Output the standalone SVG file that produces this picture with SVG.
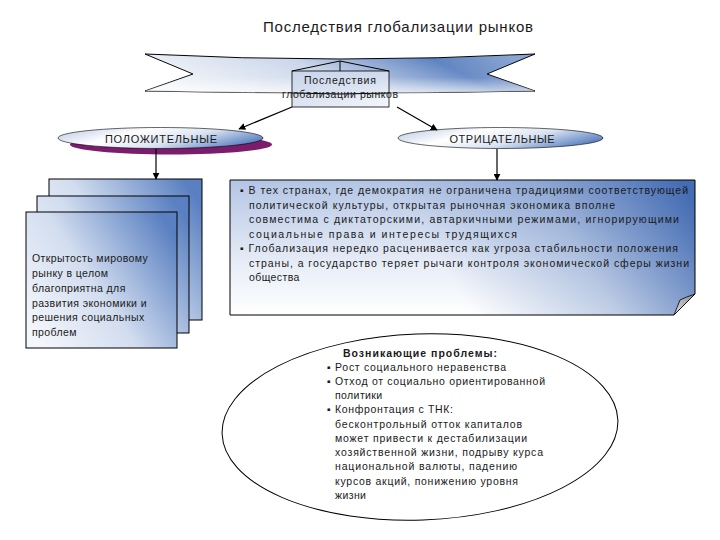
<svg xmlns="http://www.w3.org/2000/svg" width="720" height="540" viewBox="0 0 720 540">
<defs>
<linearGradient id="gRibbon" x1="0" y1="0.6" x2="1" y2="0.4">
<stop offset="0" stop-color="#f4f6fa"/>
<stop offset="0.45" stop-color="#cad6ea"/>
<stop offset="0.8" stop-color="#5a80c0"/>
<stop offset="1" stop-color="#88a3d1"/>
</linearGradient>
<linearGradient id="gRibbonV" x1="0" y1="0" x2="0" y2="1">
<stop offset="0" stop-color="#ffffff" stop-opacity="0"/>
<stop offset="0.6" stop-color="#ffffff" stop-opacity="0.1"/>
<stop offset="1" stop-color="#ffffff" stop-opacity="0.7"/>
</linearGradient>
<linearGradient id="gBox" x1="0" y1="0" x2="1" y2="1">
<stop offset="0" stop-color="#c6d3ea"/>
<stop offset="0.55" stop-color="#d9e2f1"/>
<stop offset="1" stop-color="#f2f5fa"/>
</linearGradient>
<linearGradient id="gEll" x1="0" y1="0.3" x2="1" y2="0.7">
<stop offset="0" stop-color="#c9d5ea"/>
<stop offset="0.3" stop-color="#ffffff"/>
<stop offset="0.6" stop-color="#dbe4f2"/>
<stop offset="1" stop-color="#4d76bb"/>
</linearGradient>
<linearGradient id="gPage" x1="0" y1="0.8" x2="1" y2="0.2">
<stop offset="0" stop-color="#f3f6fb"/>
<stop offset="0.45" stop-color="#d2ddef"/>
<stop offset="1" stop-color="#5a80c1"/>
</linearGradient>
<linearGradient id="gNoteV" gradientUnits="userSpaceOnUse" x1="0" y1="180" x2="0" y2="315">
<stop offset="0" stop-color="#b3c5e5"/>
<stop offset="0.6" stop-color="#e6ecf6"/>
<stop offset="1" stop-color="#ffffff"/>
</linearGradient>
<linearGradient id="gNoteH" gradientUnits="userSpaceOnUse" x1="470" y1="310" x2="680" y2="180">
<stop offset="0" stop-color="#4a72b6" stop-opacity="0"/>
<stop offset="0.5" stop-color="#4a72b6" stop-opacity="0.35"/>
<stop offset="1" stop-color="#3f68b0" stop-opacity="0.95"/>
</linearGradient>
<linearGradient id="gCurl" x1="0" y1="1" x2="1" y2="0">
<stop offset="0" stop-color="#e0e0e0"/>
<stop offset="1" stop-color="#8c8c8c"/>
</linearGradient>
<marker id="arr" viewBox="0 0 10 10" refX="9" refY="5" markerWidth="7" markerHeight="7" markerUnits="userSpaceOnUse" orient="auto">
<path d="M0,0 L10,5 L0,10 Z" fill="#000"/>
</marker>
<style>
.t{font-family:"Liberation Sans",Arial,sans-serif;fill:#1a1a1a;}
.s{font-size:10.5px;}
.ls{letter-spacing:0.4px;}
.b{font-weight:bold;}
.ln{stroke:#000;stroke-width:1;fill:none;}
.c{stroke:#000;stroke-width:1.2;fill:none;marker-end:url(#arr);}
</style>
</defs>
<rect width="720" height="540" fill="#ffffff"/>

<text class="t" x="398" y="32" font-size="15" text-anchor="middle" textLength="270" lengthAdjust="spacing">Последствия глобализации рынков</text>

<g id="banner">
<path d="M145,54 Q340,64 535,54 L487,74 L535,91 Q340,95 145,91 L193,74 Z" fill="url(#gRibbon)" stroke="#000" stroke-width="1"/>
<path d="M145,54 Q340,64 535,54 L487,74 L535,91 Q340,95 145,91 L193,74 Z" fill="url(#gRibbonV)"/>
</g>

<g id="root">
<rect x="292" y="71" width="97" height="36" fill="url(#gBox)" fill-opacity="0.85" stroke="#000" stroke-width="0.8"/>
<path d="M292,71 L340,61 L389,71 M340,61 L340,71" class="ln" stroke-width="0.8"/>
<path d="M292,93 Q340,95 389,93" class="ln" stroke-width="0.8"/>
<text class="t" x="340" y="84" font-size="10.5" text-anchor="middle" textLength="72" lengthAdjust="spacing">Последствия</text>
<text class="t" x="340" y="98" font-size="10.5" text-anchor="middle" textLength="116" lengthAdjust="spacing">глобализации рынков</text>
</g>

<g id="positive">
<ellipse cx="171" cy="144.5" rx="101" ry="10" fill="#7b1c6c"/>
<ellipse cx="160.5" cy="138" rx="102.5" ry="10.5" fill="url(#gEll)" stroke="#000" stroke-width="0.6"/>
<text class="t" x="161" y="143" font-size="11" text-anchor="middle" textLength="112" lengthAdjust="spacing">ПОЛОЖИТЕЛЬНЫЕ</text>
</g>

<g id="negative">
<ellipse cx="500.5" cy="138" rx="102.5" ry="10.5" fill="url(#gEll)" stroke="#000" stroke-width="0.6"/>
<text class="t" x="502" y="143" font-size="11" text-anchor="middle" textLength="105" lengthAdjust="spacing">ОТРИЦАТЕЛЬНЫЕ</text>
</g>

<g id="positive-pages">
<rect x="49" y="179" width="153" height="141" fill="url(#gPage)" stroke="#000" stroke-width="1"/>
<rect x="37" y="196" width="152" height="137" fill="url(#gPage)" stroke="#000" stroke-width="1"/>
<rect x="26" y="212" width="151" height="136" fill="url(#gPage)" stroke="#000" stroke-width="1"/>
<text class="t s ls" x="32" y="262">Открытость мировому</text>
<text class="t s ls" x="32" y="277">рынку в целом</text>
<text class="t s ls" x="32" y="292">благоприятна для</text>
<text class="t s ls" x="32" y="307">развития экономики и</text>
<text class="t s ls" x="32" y="321">решения социальных</text>
<text class="t s ls" x="32" y="336">проблем</text>
</g>

<g id="negative-note">
<path d="M230,180 H695 V294 L674,315 H230 Z" fill="url(#gNoteV)" stroke="none"/>
<path d="M230,180 H695 V294 L674,315 H230 Z" fill="url(#gNoteH)" stroke="#000" stroke-width="1"/>
<path d="M674,315 L680,300 Q686,297 695,294 Z" fill="url(#gCurl)" stroke="#000" stroke-width="0.8"/>
<text class="t s" x="240" y="194" textLength="448" lengthAdjust="spacing">▪ В тех странах, где демократия не ограничена традициями соответствующей</text>
<text class="t s" x="249" y="208.5" textLength="366" lengthAdjust="spacing">политической культуры, открытая рыночная экономика вполне</text>
<text class="t s" x="249" y="223" textLength="430" lengthAdjust="spacing">совместима с диктаторскими, автаркичными режимами, игнорирующими</text>
<text class="t s" x="249" y="237.5" textLength="268" lengthAdjust="spacing">социальные права и интересы трудящихся</text>
<text class="t s" x="240" y="252" textLength="438" lengthAdjust="spacing">▪ Глобализация нередко расценивается как угроза стабильности положения</text>
<text class="t s" x="249" y="266.5" textLength="440" lengthAdjust="spacing">страны, а государство теряет рычаги контроля экономической сферы жизни</text>
<text class="t s ls" x="249" y="281">общества</text>
</g>

<g id="problems">
<ellipse cx="420" cy="427" rx="198" ry="93" fill="#ffffff" stroke="#000" stroke-width="1" transform="rotate(-2 420 427)"/>
<text class="t s b" x="343" y="357" textLength="154" lengthAdjust="spacing">Возникающие проблемы:</text>
<text class="t s" x="327" y="371" textLength="179" lengthAdjust="spacing">▪ Рост социального неравенства</text>
<text class="t s" x="327" y="385" textLength="218" lengthAdjust="spacing">▪ Отход от социально ориентированной</text>
<text class="t s ls" x="335" y="398.5">политики</text>
<text class="t s" x="327" y="413" textLength="126" lengthAdjust="spacing">▪ Конфронтация с ТНК:</text>
<text class="t s" x="335" y="428" textLength="187" lengthAdjust="spacing">бесконтрольный отток капиталов</text>
<text class="t s" x="335" y="442" textLength="192" lengthAdjust="spacing">может привести к дестабилизации</text>
<text class="t s" x="335" y="456" textLength="208" lengthAdjust="spacing">хозяйственной жизни, подрыву курса</text>
<text class="t s" x="335" y="470" textLength="182" lengthAdjust="spacing">национальной валюты, падению</text>
<text class="t s" x="335" y="485" textLength="183" lengthAdjust="spacing">курсов акций, понижению уровня</text>
<text class="t s ls" x="335" y="499">жизни</text>
</g>

<g id="connectors">
<line class="c" x1="292" y1="107" x2="239" y2="129"/>
<line class="c" x1="397" y1="107" x2="437" y2="130"/>
<line class="c" x1="156" y1="149" x2="156" y2="179"/>
<line class="c" x1="497" y1="149" x2="497" y2="180"/>
</g>
</svg>
